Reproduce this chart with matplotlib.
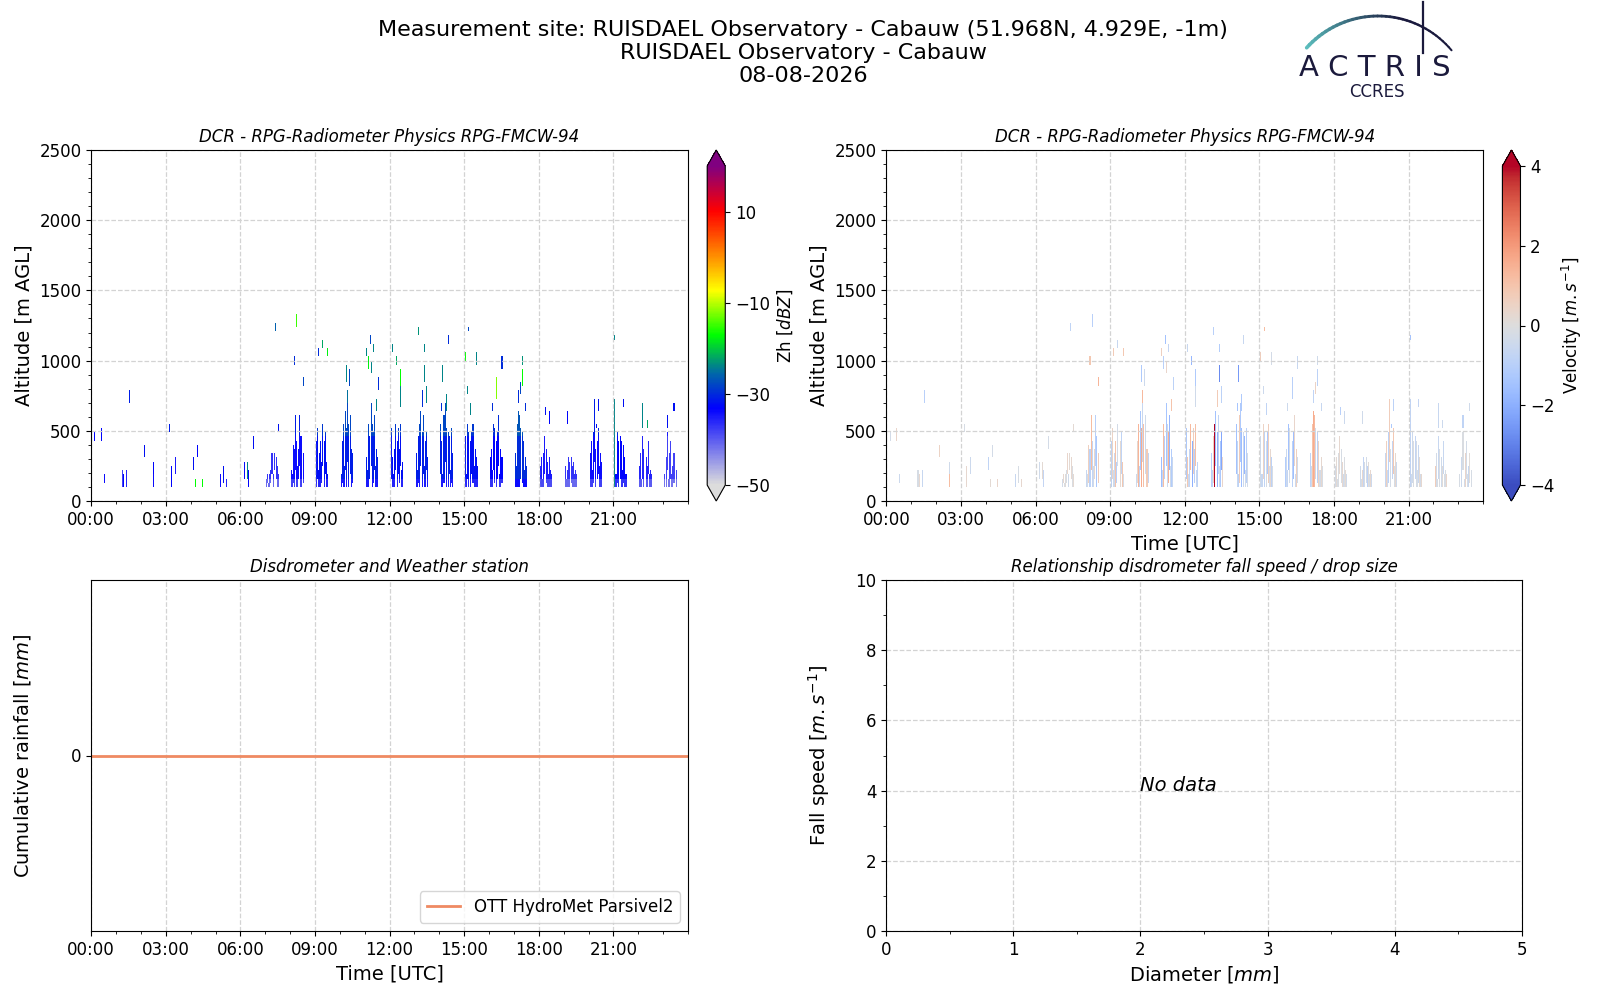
import matplotlib
matplotlib.use("Agg")
import matplotlib.pyplot as plt
import numpy as np
from matplotlib.colors import LinearSegmentedColormap
from matplotlib.ticker import MultipleLocator, FuncFormatter

# ---- radar showers: one entry per hourly shower, 12 columns of 2.5 min ----
shower_hour = [7, 8, 9, 10, 11, 12, 13, 14, 15, 16, 17, 18, 19, 20, 21, 22, 23]
shower_tops = [
    [160, 190, 130, 190, 220, 330, 190, 350, 0, 310, 250, 190],
    [220, 190, 400, 370, 610, 430, 250, 380, 600, 460, 0, 350],
    [440, 520, 220, 330, 440, 290, 560, 0, 430, 500, 280, 190],
    [190, 420, 550, 250, 640, 520, 700, 560, 0, 600, 380, 330],
    [300, 220, 540, 460, 0, 700, 560, 480, 600, 250, 380, 300],
    [520, 300, 190, 380, 540, 0, 420, 510, 360, 540, 220, 280],
    [350, 220, 450, 560, 640, 0, 480, 600, 250, 420, 500, 300],
    [560, 420, 190, 600, 700, 520, 0, 500, 450, 220, 520, 330],
    [450, 190, 540, 480, 0, 420, 500, 560, 250, 380, 300, 250],
    [300, 380, 220, 560, 520, 0, 420, 500, 600, 190, 380, 300],
    [330, 250, 560, 640, 600, 520, 0, 500, 440, 220, 300, 250],
    [250, 300, 160, 330, 460, 0, 380, 280, 190, 310, 220, 200],
    [250, 160, 230, 310, 280, 0, 300, 250, 280, 190, 230, 200],
    [350, 420, 220, 480, 720, 380, 0, 430, 520, 250, 340, 280],
    [720, 190, 500, 420, 0, 470, 430, 220, 400, 300, 190, 200],
    [250, 330, 160, 450, 380, 0, 300, 250, 420, 190, 230, 190],
    [190, 0, 300, 500, 160, 340, 420, 190, 250, 350, 0, 220],
]
shower_base = [
    [100, 130, 100, 100, 130, 190, 100, 220, 0, 160, 100, 100],
    [100, 100, 130, 100, 220, 100, 100, 160, 250, 100, 0, 130],
    [100, 160, 100, 100, 100, 130, 250, 0, 100, 190, 100, 100],
    [100, 130, 100, 100, 220, 100, 280, 100, 0, 190, 100, 130],
    [100, 100, 100, 160, 0, 250, 100, 130, 220, 100, 100, 100],
    [160, 100, 100, 100, 220, 0, 100, 190, 130, 250, 100, 100],
    [100, 100, 130, 100, 250, 0, 100, 190, 100, 100, 220, 100],
    [190, 100, 100, 130, 280, 100, 0, 100, 190, 100, 130, 100],
    [100, 100, 160, 100, 0, 100, 190, 130, 100, 100, 100, 100],
    [100, 100, 100, 220, 130, 0, 100, 160, 250, 100, 100, 130],
    [100, 100, 100, 100, 100, 160, 0, 130, 100, 100, 100, 100],
    [100, 100, 100, 100, 190, 0, 130, 100, 100, 100, 100, 100],
    [100, 100, 100, 100, 100, 0, 130, 100, 100, 100, 100, 100],
    [100, 100, 100, 130, 280, 100, 0, 160, 190, 100, 100, 100],
    [220, 100, 130, 100, 0, 160, 100, 100, 130, 100, 100, 100],
    [100, 100, 100, 160, 100, 0, 100, 100, 190, 100, 100, 100],
    [100, 0, 100, 220, 100, 100, 160, 100, 100, 130, 0, 100],
]
shower_zh = [-37, -34, -32, -31, -31, -32, -31, -31, -32, -33, -30, -35, -37, -34, -33, -36, -38]
shower_vel = [
    [-0.3, 0.3, -0.1, 0.1, -0.2, 0.4, -0.4, 0.2, 0.0, 0.3, -0.1, 0.2],
    [-0.6, -0.3, 0.6, -0.9, 1.2, -0.7, -0.4, 0.3, -1.0, -1.3, 0.0, 0.7],
    [-0.9, 0.5, -0.4, -0.5, 1.0, -1.0, -0.3, 0.0, 0.2, -0.8, 0.9, -0.3],
    [-0.5, 0.3, 1.4, -0.8, -1.3, 1.6, -0.6, 1.1, 0.0, -0.4, 0.8, -0.7],
    [-1.6, -0.6, 1.2, -1.0, 0.0, -1.4, -0.5, 1.5, -1.8, -0.4, -1.1, -0.6],
    [-1.3, 0.9, -0.5, -0.7, 1.3, 0.0, -2.0, 0.7, -1.0, 1.1, -0.6, -0.8],
    [-1.0, -0.7, 0.6, 4.0, -1.5, 0.0, -1.9, -0.8, -0.5, -1.3, -2.2, 0.4],
    [-1.5, -0.6, -0.9, 0.8, -1.2, -1.6, 0.0, -0.5, -1.8, -0.4, -1.0, -0.3],
    [-0.4, -0.6, 0.5, -0.8, 0.0, -0.2, -1.3, 0.7, -0.3, 0.3, -0.9, -0.2],
    [-1.1, -0.5, -0.7, -1.5, -0.3, 0.0, -0.9, -1.6, 0.4, -0.5, 0.6, -0.4],
    [-0.8, -0.4, 1.0, 1.6, 1.3, -0.4, 0.0, -0.9, 0.5, -0.3, 0.3, -0.2],
    [-0.3, 0.2, -0.2, -0.1, 0.3, 0.0, -0.2, 0.3, -0.4, -0.1, 0.2, -0.4],
    [-0.4, -0.2, 0.3, -0.7, -0.2, 0.0, -0.3, -0.9, 0.1, -0.3, 0.3, -0.5],
    [-0.6, 0.6, -0.4, -0.9, 0.7, -0.3, 0.0, -0.7, 0.9, -0.2, 0.3, -0.5],
    [-0.2, -0.4, -0.5, -0.1, 0.0, -0.7, -0.3, -0.2, -0.6, 0.2, -0.3, 0.3],
    [0.7, -0.3, -0.2, -0.6, -0.1, 0.0, -0.4, 0.1, -0.6, -0.2, -0.2, 0.4],
    [-0.2, 0.0, -0.5, -0.1, -0.3, 0.4, -0.3, -0.2, -0.6, 0.1, 0.0, -0.2],
]
# reflectivity change with height inside showers
layer_base = [100, 160, 450, 750]
layer_offset = [-4, 0, 3, 10]

# ---- isolated echoes (hour, bottom m, top m, dBZ, velocity) ----
blip_hour = [0.13, 0.38, 0.54, 1.25, 1.33, 1.42, 1.50, 2.15, 2.50, 2.50, 3.15, 3.22,
             3.39, 4.12, 4.20, 4.28, 4.48, 5.19, 5.32, 5.44, 6.13, 6.26, 6.33, 6.53,
             7.41, 7.53, 8.18, 8.27, 8.50, 9.14, 9.30, 9.54, 10.28, 10.30, 10.39,
             11.06, 11.15, 11.23, 11.26, 11.35, 11.49, 11.55, 12.12, 12.25, 12.42,
             12.45, 13.16, 13.32, 13.40, 13.40, 13.46, 14.10, 14.14, 14.29, 14.37,
             15.05, 15.13, 15.17, 15.28, 15.48, 16.14, 16.30, 16.50, 17.18, 17.26,
             17.34, 17.34, 17.46, 18.27, 18.42, 19.14, 20.32, 20.41, 21.08, 21.08,
             21.40, 22.18, 22.37, 23.18, 23.42]
blip_bottom = [440, 440, 140, 100, 100, 100, 730, 320, 220, 100, 500, 100,
               220, 240, 100, 320, 100, 100, 160, 100, 190, 190, 130, 400,
               1240, 500, 1000, 1270, 830, 1040, 1110, 1045, 880, 730, 850,
               1040, 970, 1150, 930, 1070, 650, 820, 1065, 975, 700,
               850, 1200, 700, 1080, 880, 730, 650, 880, 670, 1130,
               1015, 770, 1215, 640, 1000, 670, 760, 970, 730, 790,
               1000, 850, 670, 620, 560, 560, 530, 670, 1155, 100,
               700, 530, 530, 530, 670]
blip_top = [470, 500, 160, 190, 160, 190, 760, 370, 250, 160, 520, 220,
            280, 280, 130, 370, 130, 160, 220, 130, 250, 250, 190, 440,
            1265, 520, 1015, 1305, 875, 1060, 1125, 1060, 940, 760, 910,
            1060, 1010, 1175, 990, 1105, 725, 850, 1100, 1015, 790,
            910, 1215, 760, 1105, 940, 790, 690, 940, 730, 1150,
            1040, 815, 1235, 690, 1040, 690, 870, 1000, 760, 840,
            1015, 910, 690, 640, 610, 610, 545, 725, 1175, 720,
            725, 690, 550, 580, 690]
blip_zh = [-33, -33, -34, -38, -33, -36, -31, -32, -33, -34, -31, -33,
           -35, -32, -17, -33, -17, -34, -32, -36, -34, -24, -33, -32,
           -26, -32, -30, -15, -28, -30, -22, -18, -24, -25, -28,
           -24, -18, -28, -24, -24, -24, -30, -24, -22, -24,
           -17, -23, -30, -24, -24, -24, -30, -24, -24, -30,
           -17, -24, -28, -24, -24, -30, -12, -30, -30, -28,
           -23, -17, -30, -32, -33, -33, -32, -32, -24, -24,
           -32, -24, -22, -32, -32]
blip_vel = [-0.3, 0.4, -0.5, -0.2, 0.3, -0.6, -1.0, 0.5, -0.4, 1.2, -0.2, 0.3,
            -0.5, -0.8, 0.2, -0.3, 0.4, -0.6, -0.2, 0.3, -0.4, 0.2, -0.7, -0.3,
            -0.8, 0.2, 0.9, -1.0, 1.4, 0.8, -0.6, 0.9, -1.2, 1.3, -0.5,
            0.6, -1.0, -1.5, 0.4, -0.7, 1.0, -0.9, -0.6, -1.8, -0.4,
            -1.2, -1.0, 0.8, -1.1, -2.8, -0.9, -1.4, -2.5, -1.2, -0.6,
            0.7, -0.5, 1.2, -0.8, -0.3, -0.5, -1.0, -0.6, -0.8, 0.5,
            -0.4, -0.9, -0.6, -1.0, -0.5, -0.4, -1.2, -0.9, -1.5, -0.8,
            -0.7, -0.6, -0.5, -0.8, -0.4]

# ---- disdrometer: cumulative rainfall (no rain) ----
rain_hour = [0, 3, 6, 9, 12, 15, 18, 21, 24]
rain_mm = [0, 0, 0, 0, 0, 0, 0, 0, 0]

# ---- build the time-height grid ----
t_edges = np.arange(0, 24 * 60 + 2.5, 2.5) / 60.0
z_edges = np.arange(100, 2500 + 30, 30)
z_mid = 0.5 * (z_edges[1:] + z_edges[:-1])
zh = np.full((len(z_mid), len(t_edges) - 1), np.nan)
vel = np.full_like(zh, np.nan)
layer_idx = np.searchsorted(layer_base, z_mid, side="right") - 1
z_offset = np.array(layer_offset)[layer_idx]

for h, tops, bases, zmean, vcols in zip(shower_hour, shower_tops, shower_base,
                                        shower_zh, shower_vel):
    for k, (top, base, v) in enumerate(zip(tops, bases, vcols)):
        if top == 0:
            continue
        col = h * 24 + 1 + k
        rows = (z_mid >= base) & (z_mid <= top)
        zh[rows, col] = zmean + z_offset[rows]
        vel[rows, col] = v

for h, b, t, z, v in zip(blip_hour, blip_bottom, blip_top, blip_zh, blip_vel):
    col = int(h * 24)
    rows = (z_mid >= b - 15) & (z_mid <= t + 15)
    zh[rows, col] = z
    vel[rows, col] = v

zh_cmap = LinearSegmentedColormap.from_list(
    "zh", [(0.0, "#dcdcdc"), (0.24, "#0000ff"), (0.35, "#0068a8"),
           (0.47, "#00ff00"), (0.61, "#ffff00"), (0.70, "#ffa000"),
           (0.86, "#ff0000"), (1.0, "#800080")])

fig = plt.figure(figsize=(16, 10), dpi=100)

ax1 = fig.add_axes([0.057, 0.499, 0.373, 0.351])
ax2 = fig.add_axes([0.554, 0.499, 0.373, 0.351])
ax3 = fig.add_axes([0.057, 0.069, 0.373, 0.351])
ax4 = fig.add_axes([0.554, 0.069, 0.397, 0.351])
cax1 = fig.add_axes([0.442, 0.499, 0.0113, 0.351])
cax2 = fig.add_axes([0.939, 0.499, 0.0113, 0.351])

hour_fmt = FuncFormatter(lambda x, p: "%02d:00" % int(round(x)))
title_kw = dict(fontsize=12, style="italic")
grid_kw = dict(color="lightgray", linestyle="--", linewidth=0.9)

m1 = ax1.pcolormesh(t_edges, z_edges, np.ma.masked_invalid(zh), cmap=zh_cmap,
                    vmin=-50, vmax=20, shading="flat")
m2 = ax2.pcolormesh(t_edges, z_edges, np.ma.masked_invalid(vel), cmap="coolwarm",
                    vmin=-4, vmax=4, shading="flat")

for ax in (ax1, ax2):
    ax.set_xlim(0, 24)
    ax.set_ylim(0, 2500)
    ax.set_xticks(range(0, 24, 3))
    ax.xaxis.set_major_formatter(hour_fmt)
    ax.xaxis.set_minor_locator(MultipleLocator(1))
    ax.yaxis.set_minor_locator(MultipleLocator(100))
    ax.set_ylabel("Altitude [m AGL]", fontsize=14)
    ax.set_title("DCR - RPG-Radiometer Physics RPG-FMCW-94", **title_kw)
    ax.grid(True, **grid_kw)
    ax.tick_params(labelsize=12)
ax2.set_xlabel("Time [UTC]", fontsize=14)

cb1 = fig.colorbar(m1, cax=cax1, extend="both", ticks=[-50, -30, -10, 10])
cb1.set_label("Zh [$dBZ$]", fontsize=12)
cb1.ax.tick_params(labelsize=12)
cb2 = fig.colorbar(m2, cax=cax2, extend="both", ticks=[-4, -2, 0, 2, 4])
cb2.set_label("Velocity [$m.s^{-1}$]", fontsize=12)
cb2.ax.tick_params(labelsize=12)

ax3.plot(rain_hour, rain_mm, color="#ef8a62", linewidth=2, label="OTT HydroMet Parsivel2")
ax3.set_xlim(0, 24)
ax3.set_xticks(range(0, 24, 3))
ax3.xaxis.set_major_formatter(hour_fmt)
ax3.xaxis.set_minor_locator(MultipleLocator(1))
ax3.set_yticks([0])
ax3.set_xlabel("Time [UTC]", fontsize=14)
ax3.set_ylabel("Cumulative rainfall [$mm$]", fontsize=14)
ax3.yaxis.set_label_coords(-0.097, 0.5)
ax3.set_title("Disdrometer and Weather station", **title_kw)
ax3.grid(True, **grid_kw)
ax3.tick_params(labelsize=12)
ax3.legend(loc="lower right", fontsize=12)

ax4.set_xlim(0, 5)
ax4.set_ylim(0, 10)
ax4.xaxis.set_minor_locator(MultipleLocator(0.5))
ax4.yaxis.set_minor_locator(MultipleLocator(1))
ax4.set_xlabel("Diameter [$mm$]", fontsize=14)
ax4.set_ylabel("Fall speed [$m.s^{-1}$]", fontsize=14)
ax4.yaxis.set_label_coords(-0.085, 0.5)
ax4.set_title("Relationship disdrometer fall speed / drop size", **title_kw)
ax4.grid(True, **grid_kw)
ax4.tick_params(labelsize=12)
ax4.text(2, 4, "No data", fontsize=14, style="italic")

fig.suptitle("Measurement site: RUISDAEL Observatory - Cabauw (51.968N, 4.929E, -1m)\n"
             "RUISDAEL Observatory - Cabauw\n08-08-2026", fontsize=16, y=0.980, x=0.502)

# ACTRIS / CCRES logo, in figure pixels
lax = fig.add_axes([0.78, 0.9, 0.14, 0.1])
lax.set_xlim(1248, 1472)
lax.set_ylim(100, 0)
lax.axis("off")
ang = np.linspace(np.radians(138), np.radians(40), 40)
cx, cy, r = 1378, 112, 96
arc_x = cx + r * np.cos(ang)
arc_y = cy - r * np.sin(ang)
teal = np.array([0.36, 0.74, 0.74])
navy = np.array([0.10, 0.10, 0.24])
for i in range(len(ang) - 1):
    f = min(1.0, i / (len(ang) * 0.6))
    lax.plot(arc_x[i:i + 2], arc_y[i:i + 2], color=teal * (1 - f) + navy * f,
             linewidth=2.6 - 1.2 * i / len(ang), solid_capstyle="round")
lax.plot([1423, 1423], [2, 53], color="#1b1a3c", linewidth=1.6)
lax.text(1375, 76, "A C T R I S", fontsize=21, color="#1b1a3c", ha="center",
         va="baseline")
lax.text(1377, 92, "CCRES", fontsize=12, color="#1b1a3c", ha="center", va="center")

fig.savefig("out.png", dpi=100)
